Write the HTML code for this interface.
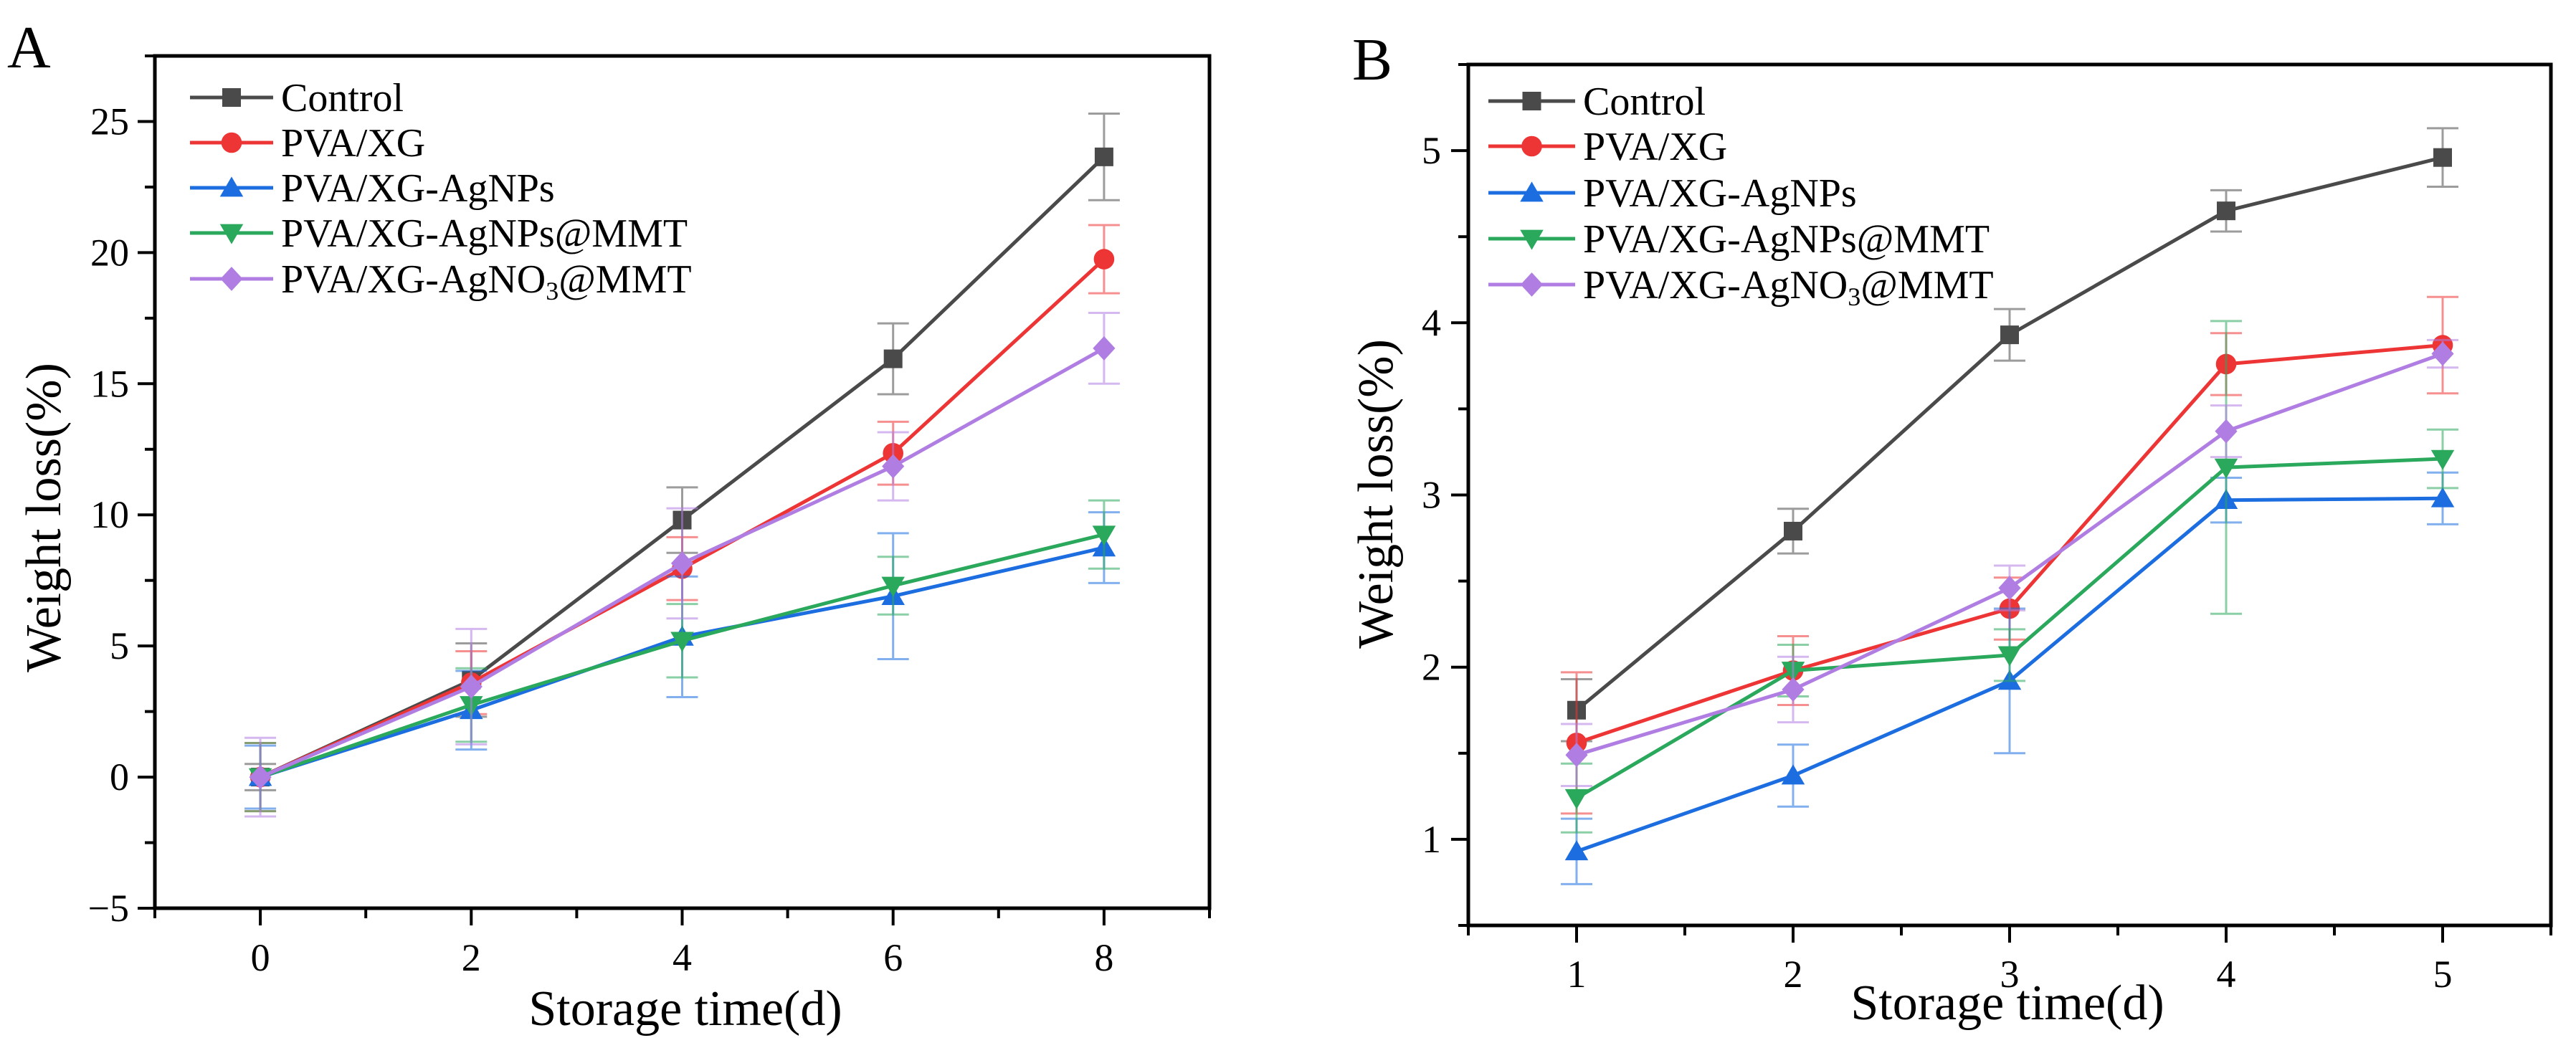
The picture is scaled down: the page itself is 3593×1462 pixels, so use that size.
<!DOCTYPE html>
<html><head><meta charset="utf-8">
<style>
html,body{margin:0;padding:0;background:#fff;}
svg{display:block;}
svg text{font-family:"Liberation Serif","DejaVu Serif",serif !important;fill:#000;}
</style></head>
<body>
<svg id="chart" width="3593" height="1462" viewBox="0 0 3593 1462" xmlns="http://www.w3.org/2000/svg" font-family="Liberation Serif, DejaVu Serif, serif"></svg>
<script>
// ---- Panel A data ----
const daysA = [0, 2, 4, 6, 8];
const controlA = [0, 3.7, 9.8, 15.95, 23.65];
const controlErrA = [0.5, 1.4, 1.25, 1.35, 1.65];
const pvaxgA = [0, 3.6, 7.95, 12.35, 19.75];
const pvaxgErrA = [1.3, 1.2, 1.2, 1.2, 1.3];
const agnpsA = [0, 2.55, 5.35, 6.9, 8.75];
const agnpsErrA = [1.2, 1.5, 2.3, 2.4, 1.35];
const agnpsMmtA = [0, 2.75, 5.2, 7.3, 9.25];
const agnpsMmtErrA = [1.3, 1.4, 1.4, 1.1, 1.3];
const agno3MmtA = [0, 3.45, 8.15, 11.85, 16.35];
const agno3MmtErrA = [1.5, 2.2, 2.1, 1.3, 1.35];
const yTicksA = [-5, 0, 5, 10, 15, 20, 25];
const xTicksA = [0, 2, 4, 6, 8];
// ---- Panel B data ----
const daysB = [1, 2, 3, 4, 5];
const controlB = [1.75, 2.79, 3.93, 4.65, 4.96];
const controlErrB = [0.18, 0.13, 0.15, 0.12, 0.17];
const pvaxgB = [1.56, 1.98, 2.34, 3.76, 3.87];
const pvaxgErrB = [0.41, 0.2, 0.18, 0.18, 0.28];
const agnpsB = [0.93, 1.37, 1.92, 2.97, 2.98];
const agnpsErrB = [0.19, 0.18, 0.42, 0.13, 0.15];
const agnpsMmtB = [1.24, 1.98, 2.07, 3.16, 3.21];
const agnpsMmtErrB = [0.2, 0.15, 0.15, 0.85, 0.17];
const agno3MmtB = [1.49, 1.87, 2.46, 3.37, 3.82];
const agno3MmtErrB = [0.18, 0.19, 0.13, 0.15, 0.08];
const yTicksB = [1, 2, 3, 4, 5];
const xTicksB = [1, 2, 3, 4, 5];

const NS = "http://www.w3.org/2000/svg";
const svg = document.getElementById("chart");
const FONT = "Liberation Serif, DejaVu Serif, serif";
function mk(tag, attrs, parent) {
  const e = document.createElementNS(NS, tag);
  for (const k in attrs) e.setAttribute(k, attrs[k]);
  if (tag === "text") e.setAttribute("font-family", FONT);
  (parent || svg).appendChild(e);
  return e;
}
const seriesNames = ["Control", "PVA/XG", "PVA/XG-AgNPs", "PVA/XG-AgNPs@MMT", "PVA/XG-AgNO3@MMT"];
const seriesKeys = ["control", "pva-xg", "pva-xg-agnps", "pva-xg-agnps-mmt", "pva-xg-agno3-mmt"];
const colors = ["#4a4a4a", "#ee3535", "#1c6de0", "#2aa85c", "#b07ee2"];
const shapes = ["square", "circle", "triangle", "tridown", "diamond"];

function marker(g, shape, cx, cy, color, s) {
  let m;
  if (shape === "square") m = mk("rect", {x: cx - s, y: cy - s, width: 2 * s, height: 2 * s, fill: color}, g);
  else if (shape === "circle") m = mk("circle", {cx: cx, cy: cy, r: s * 1.1, fill: color}, g);
  else if (shape === "triangle") m = mk("polygon", {points: `${cx},${cy - s * 1.2} ${cx - s * 1.25},${cy + s * 0.95} ${cx + s * 1.25},${cy + s * 0.95}`, fill: color}, g);
  else if (shape === "tridown") m = mk("polygon", {points: `${cx},${cy + s * 1.2} ${cx - s * 1.25},${cy - s * 0.95} ${cx + s * 1.25},${cy - s * 0.95}`, fill: color}, g);
  else m = mk("polygon", {points: `${cx},${cy - s * 1.3} ${cx + s * 1.2},${cy} ${cx},${cy + s * 1.3} ${cx - s * 1.2},${cy}`, fill: color}, g);
  return m;
}

function panel(cfg) {
  const g = mk("g", {});
  
  
  const {L, R, T, B, xmin, xmax, ymin, ymax} = cfg;
  const sx = v => L + (v - xmin) / (xmax - xmin) * (R - L);
  const sy = v => B - (v - ymin) / (ymax - ymin) * (B - T);
  const fr = mk("rect", {x: L, y: T, width: R - L, height: B - T, fill: "none", stroke: "#000", "stroke-width": 5}, g);
  
  
  for (let v = cfg.xminor0; v <= xmax + 1e-9; v += cfg.xminorStep) {
    const major = cfg.xTicks.some(t => Math.abs(t - v) < 1e-9);
    const t = mk("line", {x1: sx(v), x2: sx(v), y1: B, y2: B + (major ? 24 : 14), stroke: "#000", "stroke-width": 4}, g);
    
    
  }
  cfg.xTicks.forEach(v => {
    const t = mk("text", {x: sx(v), y: cfg.xLabelY, "font-size": 54, "text-anchor": "middle"}, g);
    t.textContent = v;
    
    
  });
  for (let v = cfg.yminor0; v <= ymax + 1e-9; v += cfg.yminorStep) {
    const major = cfg.yTicks.some(t => Math.abs(t - v) < 1e-9);
    const t = mk("line", {x1: L, x2: L - (major ? 24 : 14), y1: sy(v), y2: sy(v), stroke: "#000", "stroke-width": 4}, g);
    
    
  }
  cfg.yTicks.forEach(v => {
    const t = mk("text", {x: cfg.yLabelX, y: sy(v) + 18, "font-size": 54, "text-anchor": "end"}, g);
    t.textContent = v < 0 ? "\u2212" + Math.abs(v) : v;
    
    
  });
  const xt = mk("text", {x: cfg.xTitleX, y: cfg.xTitleY, "font-size": 70, "text-anchor": "middle"}, g);
  xt.textContent = "Storage time(d)";
  
  
  const yt = mk("text", {x: 0, y: 0, "font-size": 70, "text-anchor": "middle", transform: `translate(${cfg.yTitleX},${cfg.yTitleY}) rotate(-90)`}, g);
  yt.textContent = "Weight loss(%)";
  
  
  const pl = mk("text", {x: cfg.letterX, y: cfg.letterY, "font-size": 84}, g);
  pl.textContent = cfg.letter;
  
  
  cfg.series.forEach((s, i) => {
    const sg = mk("g", {}, g);
    
    
    s.vals.forEach((v, j) => {
      const x = sx(cfg.days[j]);
      const y1 = sy(v + s.err[j]), y2 = sy(v - s.err[j]);
      const eb = mk("path", {d: `M${x},${y1}V${y2}M${x - 22},${y1}H${x + 22}M${x - 22},${y2}H${x + 22}`, stroke: colors[i], "stroke-width": 3, "stroke-opacity": 0.55, fill: "none"}, sg);
      
      
    });
    const pts = s.vals.map((v, j) => sx(cfg.days[j]) + "," + sy(v)).join(" ");
    const ln = mk("polyline", {points: pts, fill: "none", stroke: colors[i], "stroke-width": 5}, sg);
    
    
    s.vals.forEach((v, j) => {
      const m = marker(sg, shapes[i], sx(cfg.days[j]), sy(v), colors[i], 13);
      
      
    });
  });
  const lg = mk("g", {}, g);
  
  
  seriesNames.forEach((n, i) => {
    const y = cfg.legY[i];
    const eg = mk("g", {}, lg);
    
    
    mk("line", {x1: cfg.legX1, x2: cfg.legX2, y1: y, y2: y, stroke: colors[i], "stroke-width": 5}, eg);
    marker(eg, shapes[i], (cfg.legX1 + cfg.legX2) / 2, y, colors[i], 13);
    const t = mk("text", {x: cfg.legTextX, y: y + 19, "font-size": 56}, eg);
    if (n === "PVA/XG-AgNO3@MMT") {
      t.textContent = "PVA/XG-AgNO";
      const sub = mk("tspan", {"font-size": 36, dy: 10}, t); sub.textContent = "3";
      const rest = mk("tspan", {dy: -10}, t); rest.textContent = "@MMT";
    } else t.textContent = n;
  });
}

panel({name: "panel-a", letter: "A", letterX: 10, letterY: 94,
  L: 216, R: 1687, T: 78, B: 1267, xmin: -1, xmax: 9, ymin: -5, ymax: 27.5,
  xTicks: xTicksA, yTicks: yTicksA, xminor0: -1, xminorStep: 1, yminor0: -5, yminorStep: 2.5,
  xLabelY: 1354, yLabelX: 180, xTitleX: 956, xTitleY: 1430, yTitleX: 84, yTitleY: 722,
  days: daysA, legX1: 265, legX2: 381, legTextX: 392, legY: [136, 199, 262, 325, 389],
  series: [{vals: controlA, err: controlErrA}, {vals: pvaxgA, err: pvaxgErrA}, {vals: agnpsA, err: agnpsErrA}, {vals: agnpsMmtA, err: agnpsMmtErrA}, {vals: agno3MmtA, err: agno3MmtErrA}]
});
panel({name: "panel-b", letter: "B", letterX: 1886, letterY: 111,
  L: 2048, R: 3558, T: 90, B: 1291, xmin: 0.5, xmax: 5.5, ymin: 0.5, ymax: 5.5,
  xTicks: xTicksB, yTicks: yTicksB, xminor0: 0.5, xminorStep: 0.5, yminor0: 0.5, yminorStep: 0.5,
  xLabelY: 1377, yLabelX: 2010, xTitleX: 2800, xTitleY: 1422, yTitleX: 1942, yTitleY: 689,
  days: daysB, legX1: 2076, legX2: 2197, legTextX: 2208, legY: [141, 204, 269, 333, 397],
  series: [{vals: controlB, err: controlErrB}, {vals: pvaxgB, err: pvaxgErrB}, {vals: agnpsB, err: agnpsErrB}, {vals: agnpsMmtB, err: agnpsMmtErrB}, {vals: agno3MmtB, err: agno3MmtErrB}]
});
</script>
</body></html>
